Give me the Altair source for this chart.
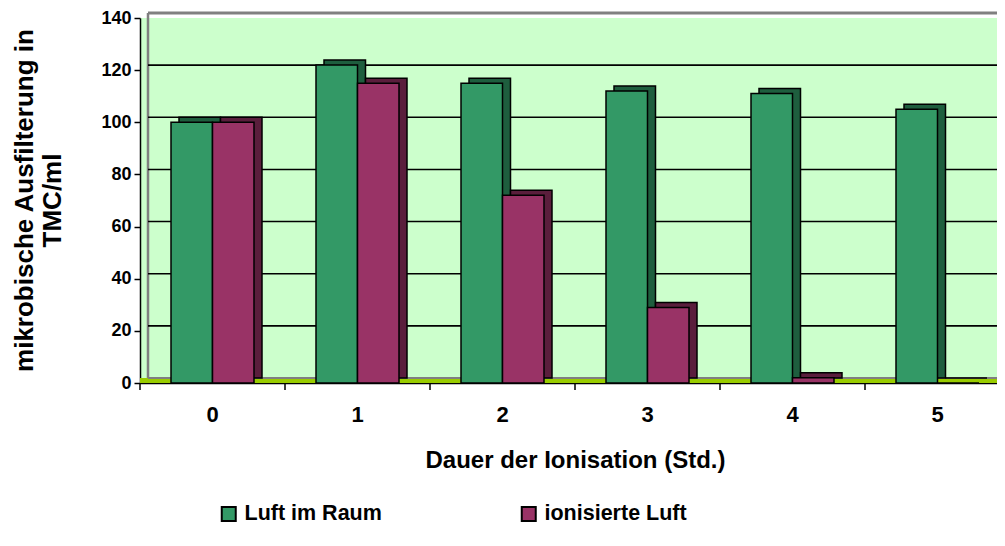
import altair as alt
import pandas as pd

hours = ["0", "1", "2", "3", "4", "5"]
luft_im_raum = [100, 122, 115, 112, 111, 105]
ionisierte_luft = [100, 115, 72, 29, 2, 0]
series = ["Luft im Raum", "ionisierte Luft"]
y_ticks = [0, 20, 40, 60, 80, 100, 120, 140]

df_a = pd.DataFrame({"h": hours, "s": series[0], "v": luft_im_raum})
df_b = pd.DataFrame({"h": hours, "s": series[1], "v": ionisierte_luft})
tick_df = pd.DataFrame({"t": y_ticks})
cat_df = pd.DataFrame({"h": hours})

W, H = 857, 365
DX, DY = 8, -5
BW = 41.5
FONT = "Liberation Sans"

xs = alt.Scale(domain=hours, range=[0, 870], paddingInner=0, paddingOuter=0)
ys = alt.Scale(domain=[0, 140], nice=False)
front_colors = ["#339966", "#993366"]
dark_colors = ["#1E5E3E", "#5A1E3C"]
cs = alt.Scale(domain=series, range=front_colors)

x_axis = alt.Axis(
    title="Dauer der Ionisation (Std.)", labelAngle=0, ticks=False, tickSize=0,
    labelFontSize=22, labelPadding=38, labelBaseline="alphabetic",
    domainColor="black", domainWidth=1.5, grid=False,
    titleFontSize=24, titleY=84, titleBaseline="alphabetic",
)
y_axis = alt.Axis(
    values=y_ticks, title=["mikrobische Ausfilterung in", "TMC/ml"], grid=False,
    tickSize=6, tickColor="black", tickWidth=1.5, domainColor="black", domainWidth=1.5,
    labelFontSize=18, labelPadding=3, titleFontSize=26, titleLineHeight=28,
    titleX=-129, titleY=182, titleAngle=270, titleBaseline="top", titleAlign="center",
)
legend = alt.Legend(
    title=None, orient="none", legendX=78, legendY=485, direction="horizontal",
    symbolType="square", symbolSize=196, symbolStrokeColor="black", symbolStrokeWidth=2,
    labelFontSize=21.5, labelOffset=5, columnPadding=135,
)

Y_T = alt.Y("t:Q", scale=ys, axis=y_axis)

ticks = alt.Chart(tick_df)
floor = ticks.transform_filter("datum.t == 0").mark_rule(
    color="#99CC00", strokeWidth=5, yOffset=-2.5
).encode(x=alt.value(0), x2=alt.value(W + 30), y=Y_T)
floor_edge = ticks.transform_filter("datum.t == 0").mark_rule(
    color="#808080", strokeWidth=2, yOffset=DY
).encode(x=alt.value(DX), x2=alt.value(W + 30), y=Y_T)
top_edge = ticks.transform_filter("datum.t == 140").mark_rule(
    color="#808080", strokeWidth=3, yOffset=DY
).encode(x=alt.value(DX), x2=alt.value(W + 30), y=Y_T)
left_edge = ticks.mark_rule(
    color="#808080", strokeWidth=2.5, yOffset=DY, y2Offset=DY
).encode(x=alt.value(DX), y=alt.Y("max(t):Q", scale=ys, axis=y_axis), y2="min(t):Q")
grid = ticks.transform_filter("datum.t > 0 && datum.t < 140").mark_rule(
    color="black", strokeWidth=1.6, yOffset=DY
).encode(x=alt.value(DX), x2=alt.value(W + 30), y=Y_T)


def shadow(d, shift, col):
    return alt.Chart(d).mark_bar(
        stroke="black", strokeWidth=1.5, fill=col, width=BW,
        xOffset=shift + DX, yOffset=DY, y2Offset=DY
    ).encode(
        x=alt.X("h:N", scale=xs, axis=x_axis),
        y=alt.Y("v:Q", scale=ys, axis=y_axis),
    )


def front(d, shift):
    return alt.Chart(d).mark_bar(
        stroke="black", strokeWidth=1.5, width=BW, xOffset=shift
    ).encode(
        x=alt.X("h:N", scale=xs, axis=x_axis),
        y=alt.Y("v:Q", scale=ys, axis=y_axis),
        color=alt.Color("s:N", scale=cs, legend=legend),
    )


xticks = alt.Chart(cat_df).mark_rule(color="black", strokeWidth=1.5).encode(
    x=alt.X("h:N", scale=xs, bandPosition=0, axis=x_axis),
    y=alt.value(H), y2=alt.value(H + 7),
)

chart = alt.layer(
    floor, floor_edge, top_edge, left_edge, grid,
    shadow(df_a, -BW / 2, dark_colors[0]), shadow(df_b, BW / 2, dark_colors[1]),
    front(df_a, -BW / 2), front(df_b, BW / 2),
    xticks,
).properties(
    width=W, height=H,
    autosize=alt.AutoSizeParams(type="none"),
    padding={"left": 132, "top": 10, "right": 0, "bottom": 155},
).configure(font=FONT).configure_view(fill="#CCFFCC", strokeWidth=0).configure_axis(
    labelFont=FONT, titleFont=FONT, labelFontWeight="bold", titleFontWeight="bold",
    labelColor="black", titleColor="black",
).configure_legend(labelFont=FONT, labelFontWeight="bold", labelColor="black")

chart.save("out.html", embed_options={"renderer": "svg", "actions": False})
